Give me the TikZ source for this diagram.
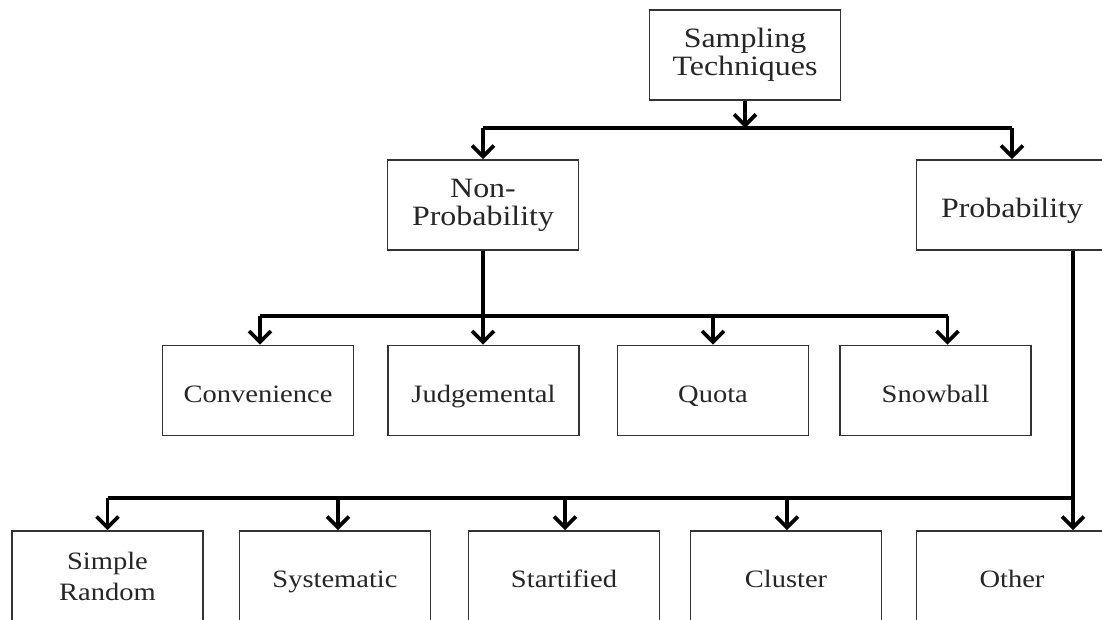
\documentclass[tikz,border=0pt]{standalone}
\usepackage{fontspec}
\setmainfont{Liberation Serif}[FakeStretch=1.14]
\usetikzlibrary{arrows.meta}

\newcommand{\toprowfont}{\fontsize{28}{28}\selectfont}
\newcommand{\lowrowfont}{\fontsize{25}{31}\selectfont}

\tikzset{
  box/.style={draw=black!80, line width=1.6, fill=white, text=black!85,
    minimum width=191, minimum height=90, inner sep=2, align=center},
  topbox/.style={box, font=\toprowfont},
  lowbox/.style={box, font=\lowrowfont},
  % fixed baseline for single-line labels
  topline/.style={topbox, text height=25, text depth=0},
  lowline/.style={lowbox, text height=23, text depth=0},
  link/.style={draw=black, line width=3.8, line join=miter},
  tip/.style={link, -{Straight Barb[length=11, width=22]}}
}

\begin{document}
\begin{tikzpicture}[x=1pt, y=-1pt]
  \useasboundingbox (0,0) rectangle (1102,619);

  % root
  \node[topbox] (st) at (745,55) {Sampling\\Techniques};

  % first level
  \node[topbox] (np) at (483,205) {Non-\\Probability};
  \node[topline] (pr) at (1012,205) {Probability};

  % non-probability methods
  \node[lowline] (cv) at (258,390.5) {Convenience};
  \node[lowline] (jd) at (483.5,390.5) {Judgemental};
  \node[lowline] (qt) at (713,390.5) {Quota};
  \node[lowline] (sb) at (935.5,390.5) {Snowball};

  % probability methods
  \node[lowbox] (sr) at (107.5,576) {Simple\\Random};
  \node[lowline] (sy) at (335,576) {Systematic};
  \node[lowline] (sf) at (564,576) {Startified};
  \node[lowline] (cl) at (786,576) {Cluster};
  \node[lowline] (ot) at (1012,576) {Other};

  % bus levels
  \coordinate (bus1) at (0,128);
  \coordinate (bus2) at (0,316);
  \coordinate (bus3) at (0,498);

  % root -> first level
  \draw[tip] (st.south) -- (st.south |- bus1);
  \draw[link] (np.north |- bus1) -- (pr.north |- bus1);
  \draw[tip] (np.north |- bus1) -- (np.north);
  \draw[tip] (pr.north |- bus1) -- (pr.north);

  % non-probability branch
  \draw[tip] (np.south) -- (jd.north -| np.south);
  \draw[link] ([xshift=2]cv.north |- bus2) -- ([xshift=12]sb.north |- bus2);
  \draw[tip] ([xshift=2]cv.north |- bus2) -- ([xshift=2]cv.north);
  \draw[tip] (qt.north |- bus2) -- (qt.north);
  \draw[tip] ([xshift=12]sb.north |- bus2) -- ([xshift=12]sb.north);

  % probability branch
  \draw[tip] ([xshift=61]pr.south) -- ([xshift=61]ot.north);
  \draw[link] (sr.north |- bus3) -- ([xshift=61]ot.north |- bus3);
  \draw[tip] (sr.north |- bus3) -- (sr.north);
  \draw[tip] ([xshift=3]sy.north |- bus3) -- ([xshift=3]sy.north);
  \draw[tip] ([xshift=1]sf.north |- bus3) -- ([xshift=1]sf.north);
  \draw[tip] ([xshift=1]cl.north |- bus3) -- ([xshift=1]cl.north);
\end{tikzpicture}
\end{document}
